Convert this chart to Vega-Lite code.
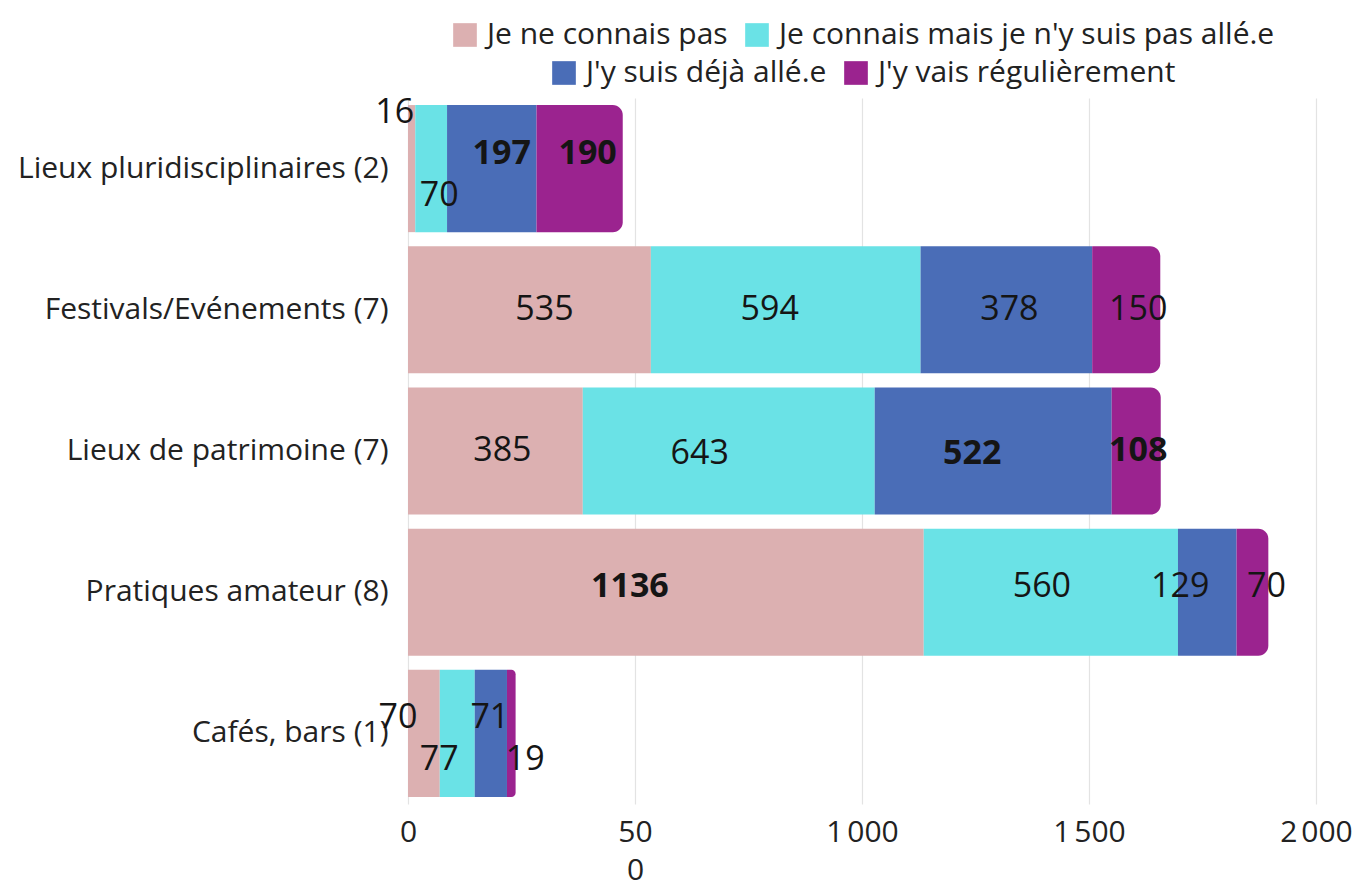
{
  "$schema": "https://vega.github.io/schema/vega-lite/v6.json",
  "width": 908,
  "height": 706,
  "autosize": "none",
  "padding": {"left": 408, "top": 98, "right": 39, "bottom": 78},
  "background": "white",
  "config": {
    "font": "Open Sans",
    "view": {"stroke": null},
    "axisX": {
      "grid": true, "gridColor": "#e3e3e3", "gridWidth": 1.2, "domain": false, "ticks": false,
      "labelFont": "Open Sans", "labelFontSize": 30, "labelColor": "#222",
      "labelPadding": 13, "labelOverlap": false, "labelFlush": false, "labelLineHeight": 38, "labelBaseline": "top"
    },
    "axisY": {
      "grid": false, "domain": false, "ticks": false, "labelFont": "Open Sans", "labelFontSize": 30,
      "labelColor": "#222", "labelPadding": 20, "labelLimit": 420
    },
    "legend": {
      "orient": "top", "direction": "horizontal", "title": null,
      "labelFont": "Open Sans", "labelFontSize": 30, "labelColor": "#222", "labelLimit": 800,
      "symbolType": "square", "symbolSize": 560, "symbolStrokeWidth": 0, "symbolOpacity": 1,
      "labelOffset": 7, "columnPadding": 14, "padding": 0, "offset": 10,
      "layout": {"top": {"anchor": "middle", "direction": "vertical", "center": true, "margin": 8}}
    }
  },
  "data": {
    "values": [
      {"category": "Lieux pluridisciplinaires (2)", "series": "Je ne connais pas", "value": 16},
      {"category": "Lieux pluridisciplinaires (2)", "series": "Je connais mais je n'y suis pas allé.e", "value": 70},
      {"category": "Lieux pluridisciplinaires (2)", "series": "J'y suis déjà allé.e", "value": 197},
      {"category": "Lieux pluridisciplinaires (2)", "series": "J'y vais régulièrement", "value": 190},
      {"category": "Festivals/Evénements (7)", "series": "Je ne connais pas", "value": 535},
      {"category": "Festivals/Evénements (7)", "series": "Je connais mais je n'y suis pas allé.e", "value": 594},
      {"category": "Festivals/Evénements (7)", "series": "J'y suis déjà allé.e", "value": 378},
      {"category": "Festivals/Evénements (7)", "series": "J'y vais régulièrement", "value": 150},
      {"category": "Lieux de patrimoine (7)", "series": "Je ne connais pas", "value": 385},
      {"category": "Lieux de patrimoine (7)", "series": "Je connais mais je n'y suis pas allé.e", "value": 643},
      {"category": "Lieux de patrimoine (7)", "series": "J'y suis déjà allé.e", "value": 522},
      {"category": "Lieux de patrimoine (7)", "series": "J'y vais régulièrement", "value": 108},
      {"category": "Pratiques amateur (8)", "series": "Je ne connais pas", "value": 1136},
      {"category": "Pratiques amateur (8)", "series": "Je connais mais je n'y suis pas allé.e", "value": 560},
      {"category": "Pratiques amateur (8)", "series": "J'y suis déjà allé.e", "value": 129},
      {"category": "Pratiques amateur (8)", "series": "J'y vais régulièrement", "value": 70},
      {"category": "Cafés, bars (1)", "series": "Je ne connais pas", "value": 70},
      {"category": "Cafés, bars (1)", "series": "Je connais mais je n'y suis pas allé.e", "value": 77},
      {"category": "Cafés, bars (1)", "series": "J'y suis déjà allé.e", "value": 71},
      {"category": "Cafés, bars (1)", "series": "J'y vais régulièrement", "value": 19}
    ]
  },
  "transform": [
    {"calculate": "indexof(['Je ne connais pas', 'Je connais mais je n\\'y suis pas allé.e', 'J\\'y suis déjà allé.e', 'J\\'y vais régulièrement'], datum.series)", "as": "k"},
    {"calculate": "indexof(['Lieux pluridisciplinaires (2)', 'Festivals/Evénements (7)', 'Lieux de patrimoine (7)', 'Pratiques amateur (8)', 'Cafés, bars (1)'], datum.category)", "as": "ci"},
    {"stack": "value", "groupby": ["category"], "sort": [{"field": "k", "order": "ascending"}], "as": ["x0", "x1"]},
    {"calculate": "(datum.x0 + datum.x1) / 2", "as": "mid"}
  ],
  "encoding": {
    "y": {
      "field": "category", "type": "nominal", "title": null,
      "sort": ["Lieux pluridisciplinaires (2)", "Festivals/Evénements (7)", "Lieux de patrimoine (7)", "Pratiques amateur (8)", "Cafés, bars (1)"],
      "scale": {"paddingInner": 0.1, "paddingOuter": 0.05}
    }
  },
  "layer": [
    {
      "transform": [{"filter": "datum.k < 2"}],
      "mark": {"type": "bar"},
      "encoding": {
        "x": {"field": "x0", "type": "quantitative", "title": null, "scale": {"domain": [0, 2000], "nice": false},
              "axis": {"values": [0, 500, 1000, 1500, 2000], "labelExpr": "datum.value == 500 ? ['50', '0'] : replace(format(datum.value, ','), ',', '\u202f')"}},
        "x2": {"field": "x1"},
        "color": {"field": "series", "type": "nominal",
                  "scale": {"domain": ["Je ne connais pas", "Je connais mais je n'y suis pas allé.e"], "range": ["#dcb0b1", "#6ae2e6"]}}
      }
    },
    {
      "layer": [
        {
          "transform": [{"filter": "datum.k == 2"}],
          "mark": {"type": "bar"},
          "encoding": {
            "x": {"field": "x0", "type": "quantitative", "title": null, "scale": {"domain": [0, 2000], "nice": false},
                  "axis": {"values": [0, 500, 1000, 1500, 2000], "labelExpr": "datum.value == 500 ? ['50', '0'] : replace(format(datum.value, ','), ',', '\u202f')"}},
            "x2": {"field": "x1"},
            "color": {"field": "series", "type": "nominal",
                      "scale": {"domain": ["J'y suis déjà allé.e", "J'y vais régulièrement"], "range": ["#4a6db7", "#9b238f"]}}
          }
        },
        {
          "transform": [{"filter": "datum.k == 3"}],
          "mark": {"type": "bar", "cornerRadiusTopRight": 10, "cornerRadiusBottomRight": 10},
          "encoding": {
            "x": {"field": "x0", "type": "quantitative", "title": null, "scale": {"domain": [0, 2000], "nice": false},
                  "axis": {"values": [0, 500, 1000, 1500, 2000], "labelExpr": "datum.value == 500 ? ['50', '0'] : replace(format(datum.value, ','), ',', '\u202f')"}},
            "x2": {"field": "x1"},
            "color": {"field": "series", "type": "nominal",
                      "scale": {"domain": ["J'y suis déjà allé.e", "J'y vais régulièrement"], "range": ["#4a6db7", "#9b238f"]}}
          }
        }
      ]
    },
    {
      "mark": {
        "type": "text", "font": "Open Sans", "fontSize": 34, "color": "#151515", "baseline": "middle", "align": "center",
        "dx": {"expr": "[-17, 8, 10, 8, 15, -16, 3, 12, 7, -29, -21, 2, -36, -9, -27, 14, -26, -18, -1, 14][datum.ci * 4 + datum.k]"},
        "dy": {"expr": "[-56, 27, -15, -15, 0, 0, 0, 0, 0, 3, 3, 0, -5, -5, -5, -5, -15, 27, -15, 27][datum.ci * 4 + datum.k]"},
        "fontWeight": {"expr": "indexof([2, 3, 10, 11, 12], datum.ci * 4 + datum.k) >= 0 ? 'bold' : 'normal'"}
      },
      "encoding": {
        "x": {"field": "mid", "type": "quantitative", "title": null, "scale": {"domain": [0, 2000], "nice": false},
              "axis": {"values": [0, 500, 1000, 1500, 2000], "labelExpr": "datum.value == 500 ? ['50', '0'] : replace(format(datum.value, ','), ',', '\u202f')"}},
        "text": {"field": "value", "type": "quantitative"}
      }
    }
  ],
  "resolve": {"scale": {"color": "independent"}}
}
